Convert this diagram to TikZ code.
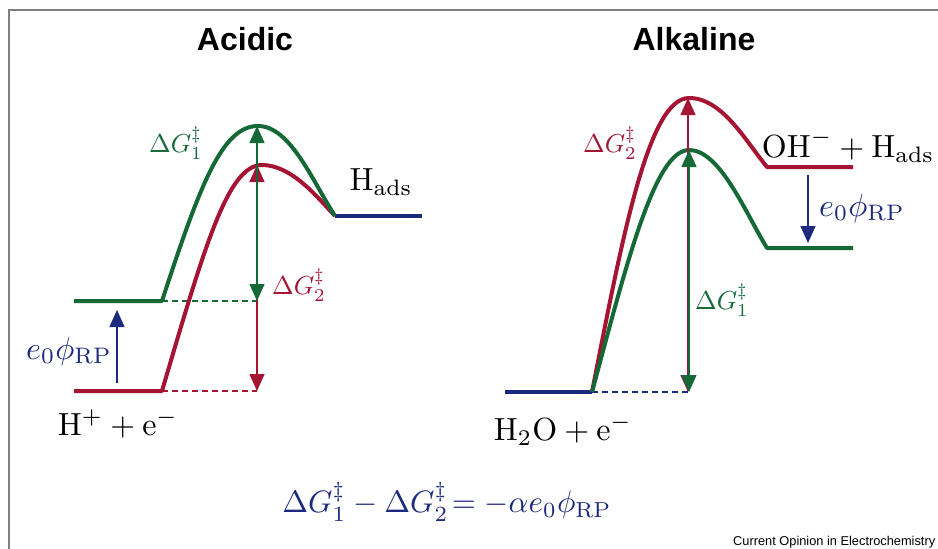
\documentclass[tikz,border=0pt]{standalone}
\usepackage{fontspec}
\newfontfamily\arialfont{Liberation Sans}
\usetikzlibrary{arrows.meta}
\definecolor{cgreen}{RGB}{20,105,55}
\definecolor{cred}{RGB}{165,20,50}
\definecolor{cblue}{RGB}{28,42,125}
\definecolor{cframe}{RGB}{128,128,128}
\tikzset{
  curve/.style={line width=4pt, line join=round},
  gaparrow/.style={line width=1.4pt, {Triangle[width=15pt,length=17pt]}-{Triangle[width=15pt,length=17pt]}},
  onearrow/.style={line width=1.4pt, -{Triangle[width=15pt,length=17pt]}},
  dashes/.style={line width=1.4pt, dash pattern=on 6pt off 4pt},
  title/.style={inner sep=0pt, font=\arialfont\bfseries\fontsize{32}{38}\selectfont},
  big/.style={inner sep=0pt, font=\fontsize{10}{12}\selectfont, scale=3.2, transform shape},
  small/.style={inner sep=0pt, font=\fontsize{10}{12}\selectfont, scale=2.6, transform shape},
}
\begin{document}
\begin{tikzpicture}[x=1pt,y=-1pt]
\useasboundingbox (0,0) rectangle (938,549);
% frame
\coordinate (fb) at (9,549);
\coordinate (fc) at (9,10);
\coordinate (fr) at (938,10);
\draw[cframe, line width=1.5pt] (fb) -- (fc) -- (fr);

% ---------------- Acidic ----------------
\node[title] (tA) at (245,39) {Acidic};
\coordinate (aGl) at (74,301);
\coordinate (aG0) at (162,301);
\coordinate (aGp) at (258,126);
\coordinate (aRl) at (74,391);
\coordinate (aR0) at (162,391);
\coordinate (aRp) at (262,165);
\coordinate (aPr) at (335,216);
\coordinate (aPe) at (422,216);
\coordinate (aAt) at (257,126);
\coordinate (aAm) at (257,301);
\coordinate (aBt) at (257,165);
\coordinate (aBb) at (257,391);

\draw[cgreen, dashes] (aG0) -- (aAm);
\draw[cred, dashes] (aR0) -- (aBb);
\draw[curve, cblue] (aPr) -- (aPe);
\draw[curve, cred] (aRl) -- (aR0) .. controls (205,245) and (228,165) .. (aRp) .. controls (292,165) and (318,198) .. (aPr);
\draw[curve, cgreen] (aGl) -- (aG0) .. controls (200,185) and (222,126) .. (aGp) .. controls (290,126) and (312,180) .. (aPr);
\draw[gaparrow, cred] (aBb) -- (aBt);
\draw[gaparrow, cgreen] (aAm) -- (aAt);

\coordinate (aEb) at (117,383);
\coordinate (aEt) at (117,310);
\draw[onearrow, cblue] (aEb) -- (aEt);

\node[small, text=cgreen] (lA1) at (176,143) {$\Delta G_1^{\ddagger}$};
\node[small, text=cred] (lA2) at (299,285) {$\Delta G_2^{\ddagger}$};
\node[big] (lAh) at (381,182) {$\mathrm{H}_{\mathrm{ads}}$};
\node[big, text=cblue] (lAe) at (69,351) {$e_0\phi_{\mathrm{RP}}$};
\node[big] (lAr) at (118,424) {$\mathrm{H}^{+} + \mathrm{e}^{-}$};

% ---------------- Alkaline ----------------
\node[title] (tK) at (694,39) {Alkaline};
\coordinate (kBl) at (505,392);
\coordinate (k0) at (592,392);
\coordinate (kRp) at (689,98);
\coordinate (kRe) at (767,167);
\coordinate (kRf) at (853,167);
\coordinate (kGp) at (689,150);
\coordinate (kGe) at (767,248);
\coordinate (kGf) at (853,248);
\coordinate (kRt) at (688,98);
\coordinate (kRb) at (688,392);
\coordinate (kGt) at (689,150);
\coordinate (kGb) at (689,392);

\draw[cblue, dashes] (k0) -- (kRb);
\draw[curve, cblue] (kBl) -- (k0);
\draw[curve, cred] (k0) .. controls (622,240) and (648,98) .. (kRp) .. controls (722,98) and (745,140) .. (kRe) -- (kRf);
\draw[curve, cgreen] (k0) .. controls (627,262) and (655,150) .. (kGp) .. controls (720,150) and (745,212) .. (kGe) -- (kGf);
\draw[gaparrow, cred] (kRb) -- (kRt);
\draw[gaparrow, cgreen] (kGb) -- (kGt);

\coordinate (kEt) at (808,175);
\coordinate (kEb) at (808,243);
\draw[onearrow, cblue] (kEt) -- (kEb);

\node[small, text=cred] (lK2) at (610,143) {$\Delta G_2^{\ddagger}$};
\node[small, text=cgreen] (lK1) at (722,300) {$\Delta G_1^{\ddagger}$};
\node[big] (lKp) at (848,146) {$\mathrm{OH}^{-} + \mathrm{H}_{\mathrm{ads}}$};
\node[big, text=cblue] (lKe) at (862,208) {$e_0\phi_{\mathrm{RP}}$};
\node[big] (lKr) at (563,430) {$\mathrm{H_2O} + \mathrm{e}^{-}$};

% ---------------- equation ----------------
\node[inner sep=0pt, font=\fontsize{10}{12}\selectfont, scale=3.1, transform shape, text=cblue] (eq) at (447,502) {$\Delta G_1^{\ddagger} - \Delta G_2^{\ddagger}\!= -\alpha e_0\phi_{\mathrm{RP}}$};

\node[anchor=base west, inner sep=0pt, font=\arialfont\fontsize{12.8}{15}\selectfont] (src) at (733,545) {Current Opinion in Electrochemistry};
\end{tikzpicture}
\end{document}
